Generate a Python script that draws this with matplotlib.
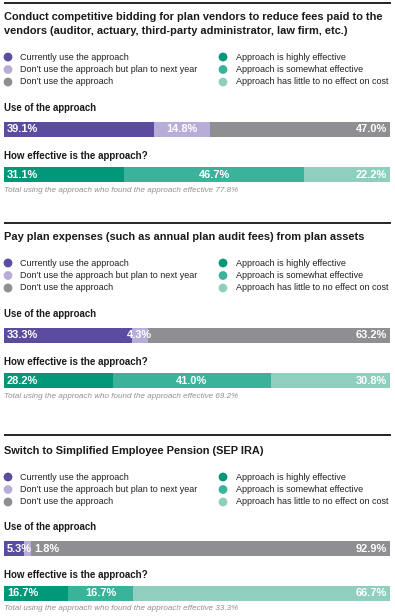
import matplotlib
matplotlib.use("Agg")
import matplotlib.pyplot as plt

# Données
titles = [
    ["Conduct competitive bidding for plan vendors to reduce fees paid to the",
     "vendors (auditor, actuary, third-party administrator, law firm, etc.)"],
    ["Pay plan expenses (such as annual plan audit fees) from plan assets"],
    ["Switch to Simplified Employee Pension (SEP IRA)"],
]
use_labels = ["Currently use the approach",
              "Don\u2019t use the approach but plan to next year",
              "Don\u2019t use the approach"]
eff_labels = ["Approach is highly effective",
              "Approach is somewhat effective",
              "Approach has little to no effect on cost"]
use_values = [
    [39.1, 14.8, 47.0],
    [33.3, 4.3, 63.2],
    [5.3, 1.8, 92.9],
]
eff_values = [
    [31.1, 46.7, 22.2],
    [28.2, 41.0, 30.8],
    [16.7, 16.7, 66.7],
]
total_effective = [77.8, 69.2, 33.3]

use_colors = ["#5b4c9f", "#b7add8", "#8f8f93"]
eff_colors = ["#009879", "#3bb29a", "#90cfbf"]

font = "Liberation Sans"

W, H = 395, 616
fig = plt.figure(figsize=(W / 100, H / 100), dpi=100)
bg = fig.add_axes([0, 0, 1, 1])
bg.set_xlim(0, W)
bg.set_ylim(H, 0)
bg.axis("off")

x0, x1 = 4, 390


def draw_bar(top, vals, cols):
    ax = fig.add_axes([x0 / W, 1 - (top + 15) / H, (x1 - x0) / W, 15 / H])
    tot = sum(vals)
    lefts = [sum(vals[:i]) for i in range(len(vals))]
    ax.barh(0, vals, left=lefts, color=cols, height=1, edgecolor="none")
    ax.set_xlim(0, tot)
    ax.set_ylim(-0.5, 0.5)
    ax.axis("off")
    kw = dict(color="white", fontweight="bold", fontsize=7.9, va="center",
              family=font, textcoords="offset points")
    for i, v in enumerate(vals):
        lab = f"{v:.1f}%"
        if i == 0:
            ax.annotate(lab, (0, 0), xytext=(2, 0), ha="left", **kw)
        elif i == len(vals) - 1:
            ax.annotate(lab, (tot, 0), xytext=(-2, 0), ha="right", **kw)
        elif v < 3:
            ax.annotate(lab, (lefts[i] + v, 0), xytext=(2, 0), ha="left", **kw)
        else:
            ax.annotate(lab, (lefts[i] + v / 2, 0), xytext=(0, 0), ha="center", **kw)


rules = [3, 223, 435]
for k in range(3):
    y = rules[k]
    bg.plot([x0, 391], [y, y], color="black", lw=1.2, solid_capstyle="butt")
    y += 14 + (2 if k == 2 else 0)
    for line in titles[k]:
        bg.text(x0, y, line, fontsize=7.9, fontweight="bold", family=font,
                va="center", ha="left", color="#1a1a1a")
        y += 14
    y += 12
    for i in range(3):
        bg.scatter(8, y, s=40, color=use_colors[i], edgecolor="none")
        bg.text(20, y, use_labels[i], fontsize=6.5, family=font, va="center", color="#222222")
        bg.scatter(223, y, s=40, color=eff_colors[i], edgecolor="none")
        bg.text(236, y, eff_labels[i], fontsize=6.5, family=font, va="center", color="#222222")
        y += 12.5
    y += 13.5 - (1 if k == 2 else 0)
    bg.text(x0, y, "Use of the approach", fontsize=6.9, fontweight="bold", family=font,
            va="center", color="#1a1a1a")
    top = y + 14
    draw_bar(top, use_values[k], use_colors)
    y = top + 34
    bg.text(x0, y, "How effective is the approach?", fontsize=7.0, fontweight="bold",
            family=font, va="center", color="#1a1a1a")
    top = y + 11
    draw_bar(top, eff_values[k], eff_colors)
    y = top + 15 + 8
    bg.text(x0, y, f"Total using the approach who found the approach effective {total_effective[k]}%",
            fontsize=5.8, style="italic", family=font, va="center", color="#8f8f8f")

fig.savefig("out.png", dpi=100)
